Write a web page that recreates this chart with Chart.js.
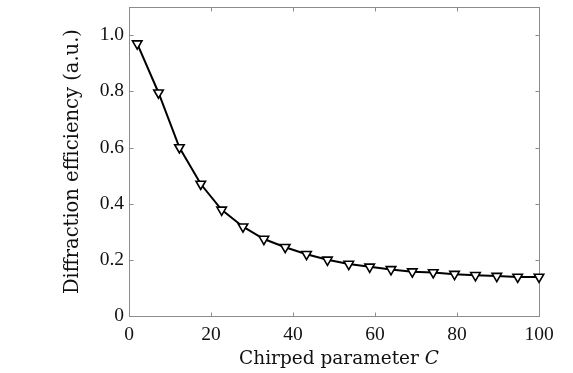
<!DOCTYPE html>
<html>
<head>
<meta charset="utf-8">
<script src="https://cdn.jsdelivr.net/npm/chart.js@4/dist/chart.umd.min.js"></script>
<style>
  html, body { margin: 0; padding: 0; background: #fff; }
  #wrap { width: 573px; height: 373px; }
</style>
</head>
<body>
<div id="wrap"><canvas id="effChart" width="573" height="373"></canvas></div>
<script>
// chirp parameter C vs. diffraction efficiency
const chirpC = [2, 7.2, 12.3, 17.5, 22.6, 27.8, 32.9, 38.1, 43.3, 48.4, 53.6, 58.7, 63.9, 69.1, 74.2, 79.4, 84.5, 89.7, 94.8, 100];
const efficiency = [0.97, 0.795, 0.60, 0.47, 0.378, 0.318, 0.274, 0.245, 0.22, 0.2, 0.185, 0.175, 0.166, 0.158, 0.155, 0.149, 0.145, 0.142, 0.139, 0.139];

const xTicks = [0, 20, 40, 60, 80, 100];
const yTicks = [0, 0.2, 0.4, 0.6, 0.8, 1.0];
const yTickLabels = ['0', '0.2', '0.4', '0.6', '0.8', '1.0'];

const tickFont = '"Liberation Serif", serif';
const titleFont = '"DejaVu Serif", serif';
const frameColor = '#8c8c8c';

// box around the plot with short inward ticks on all four sides, plus the x title
const frameTicks = {
  id: 'frameTicks',
  beforeDatasetsDraw(chart) {
    const { ctx, chartArea: a, scales: { x, y } } = chart;
    const L = Math.round(a.left) + 0.5, R = Math.round(a.right) + 0.5;
    const T = Math.round(a.top) + 0.5, B = Math.round(a.bottom) + 0.5;
    ctx.save();
    ctx.strokeStyle = frameColor;
    ctx.lineWidth = 1;
    ctx.strokeRect(L, T, R - L, B - T);
    ctx.beginPath();
    xTicks.forEach(v => {
      const px = Math.round(x.getPixelForValue(v)) + 0.5;
      ctx.moveTo(px, B); ctx.lineTo(px, B - 4);
      ctx.moveTo(px, T); ctx.lineTo(px, T + 4);
    });
    yTicks.forEach(v => {
      const py = Math.round(y.getPixelForValue(v)) + 0.5;
      ctx.moveTo(L, py); ctx.lineTo(L + 4, py);
      ctx.moveTo(R, py); ctx.lineTo(R - 4, py);
    });
    ctx.stroke();
    ctx.restore();
  },
  afterDraw(chart) {
    const { ctx, chartArea: a } = chart;
    const plain = '18.5px ' + titleFont;
    const ital = 'italic 18.5px ' + titleFont;
    ctx.save();
    ctx.fillStyle = '#111';
    ctx.textBaseline = 'alphabetic';
    ctx.font = plain;
    const w1 = ctx.measureText('Chirped parameter ').width;
    ctx.font = ital;
    const w2 = ctx.measureText('C').width;
    const x0 = (a.left + a.right) / 2 + 5 - (w1 + w2) / 2;
    ctx.font = plain;
    ctx.fillText('Chirped parameter ', x0, 364);
    ctx.font = ital;
    ctx.fillText('C', x0 + w1, 364);
    ctx.restore();
  }
};

new Chart(document.getElementById('effChart'), {
  type: 'line',
  data: {
    datasets: [{
      data: chirpC.map((c, i) => ({ x: c, y: efficiency[i] })),
      borderColor: '#000',
      borderWidth: 2,
      tension: 0,
      pointStyle: 'triangle',
      rotation: 180,
      pointRadius: 5.5,
      pointBorderWidth: 1.6,
      pointBackgroundColor: '#fff',
      pointBorderColor: '#000',
      clip: false
    }]
  },
  options: {
    responsive: false,
    animation: false,
    devicePixelRatio: 1,
    layout: { padding: { top: 3, right: 34, left: 0, bottom: 0 } },
    plugins: { legend: { display: false }, tooltip: { enabled: false } },
    scales: {
      x: {
        type: 'linear',
        min: 0,
        max: 100,
        afterBuildTicks: s => { s.ticks = xTicks.map(v => ({ value: v })); },
        afterFit: s => { s.height = 57; s.paddingLeft = 0; s.paddingRight = 0; },
        grid: { display: false, drawTicks: false },
        border: { display: false },
        ticks: { color: '#111', font: { family: tickFont, size: 19.5 }, padding: 7, maxRotation: 0 }
      },
      y: {
        type: 'linear',
        min: 0,
        max: 1.1,
        afterBuildTicks: s => { s.ticks = yTicks.map(v => ({ value: v })); },
        afterFit: s => { s.width = 129; s.paddingTop = 0; s.paddingBottom = 0; },
        grid: { display: false, drawTicks: false },
        border: { display: false },
        ticks: {
          color: '#111',
          font: { family: tickFont, size: 19.5 },
          padding: 5,
          callback: (v, i) => yTickLabels[i]
        },
        title: {
          display: true,
          text: 'Diffraction efficiency (a.u.)',
          color: '#111',
          font: { family: titleFont, size: 19.5 },
          padding: { top: 61, bottom: 0 }
        }
      }
    }
  },
  plugins: [frameTicks]
});
</script>
</body>
</html>
